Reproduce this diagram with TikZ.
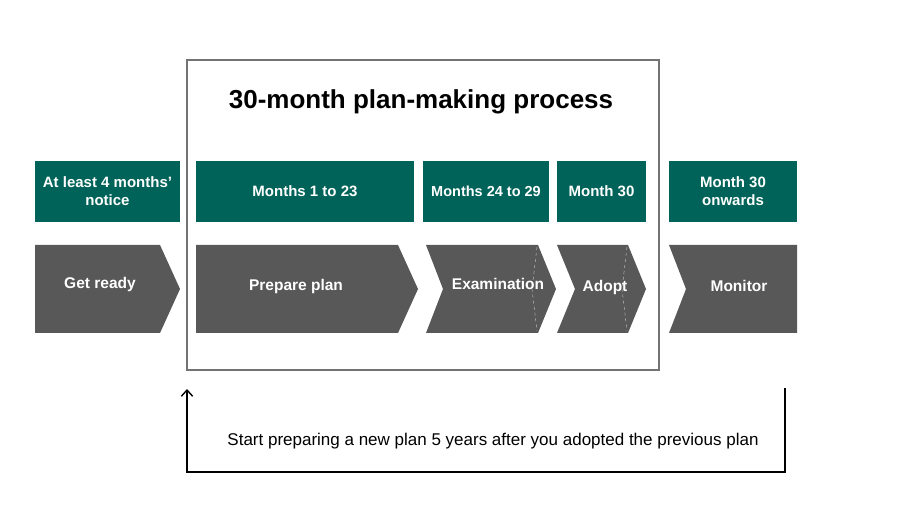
\documentclass[tikz,border=0pt]{standalone}
\usepackage{fontspec}
\setmainfont{Liberation Sans}
\usetikzlibrary{positioning}
\usetikzlibrary{arrows.meta}
\definecolor{govteal}{RGB}{0,99,89}
\definecolor{chevgrey}{RGB}{88,88,88}
\tikzset{>={Straight Barb[width=4mm,length=2.2mm]}}

\begin{document}
\begin{tikzpicture}[x=1pt,y=-1pt,
  headbox/.style={fill=govteal, text=white, font=\bfseries\fontsize{15}{18}\selectfont, align=center},
  chev/.style={fill=chevgrey, draw=none},
  chevtext/.style={text=white, font=\bfseries\fontsize{15.5}{18}\selectfont},
  notch/.style={draw=white!70!chevgrey, dashed, thin}]

    \useasboundingbox (0,0) rectangle (902,518);

    %Frame
    \draw[draw=black!55, line width=1.5pt, fill=white] (187,60) rectangle (659,370);
    \node (title) at (421,102) {\bfseries\fontsize{26}{30}\selectfont 30-month plan-making process};

    %Header boxes
    \node[headbox, minimum width=145, minimum height=61] (notice) at (107.5,191.5) {At least 4 months'\\notice};
    \node[headbox, minimum width=218, minimum height=61] (early) at (305,191.5) {Months 1 to 23};
    \node[headbox, minimum width=126, minimum height=61, font=\bfseries\fontsize{14.5}{18}\selectfont] (exam) at (486,191.5) {Months 24 to 29};
    \node[headbox, minimum width=89, minimum height=61] (adopt) at (601.5,191.5) {Month 30};
    \node[headbox, minimum width=128, minimum height=61] (later) at (733,191.5) {Month 30\\onwards};

    %Chevrons
    \fill[chev] (35,245) -- (160,245) -- (180,289) -- (160,333) -- (35,333) -- cycle;
    \fill[chev] (196,245) -- (398,245) -- (418,289) -- (398,333) -- (196,333) -- cycle;
    \fill[chev] (426,245) -- (538,245) -- (556,289) -- (538,333) -- (426,333) -- (443,289) -- cycle;
    \fill[chev] (557,245) -- (628,245) -- (646,289) -- (628,333) -- (557,333) -- (575,289) -- cycle;
    \fill[chev] (669,245) -- (797,245) -- (797,333) -- (669,333) -- (686,289) -- cycle;
    \draw[notch] (537,247) -- (532,289) -- (537,331);
    \draw[notch] (627,247) -- (622,289) -- (627,331);

    %Labels
    \node[chevtext] (getready) at (100,284) {Get ready};
    \node[chevtext] (prepare) at (296,286) {Prepare plan};
    \node[chevtext] (examination) at (498,284) {Examination};
    \node[chevtext] (adoptlab) at (605,287) {Adopt};
    \node[chevtext] (monitor) at (739,286) {Monitor};

    %Loop back
    \coordinate (loopstart) at (785,388);
    \coordinate (loopend) at (187,389);
    \draw[->, line width=1.4pt] (loopstart) -- (785,472) -- (187,472) -- (loopend);
    \node (loopnote) at (493,441) {\fontsize{17}{20}\selectfont Start preparing a new plan 5 years after you adopted the previous plan};

\end{tikzpicture}
\end{document}
